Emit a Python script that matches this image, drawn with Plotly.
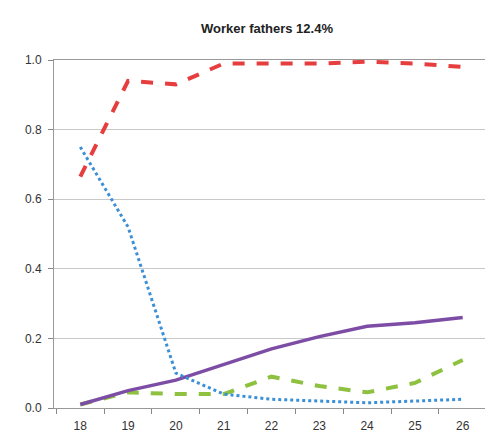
import plotly.graph_objects as go

ages = ["18", "19", "20", "21", "22", "23", "24", "25", "26"]
red_series = [0.665, 0.94, 0.93, 0.99, 0.99, 0.99, 0.995, 0.99, 0.98]
blue_series = [0.75, 0.52, 0.10, 0.04, 0.025, 0.02, 0.015, 0.02, 0.025]
purple_series = [0.01, 0.05, 0.08, 0.125, 0.17, 0.205, 0.235, 0.245, 0.26]
green_series = [0.01, 0.045, 0.04, 0.04, 0.09, 0.063, 0.045, 0.072, 0.138]

fig = go.Figure()
fig.add_trace(go.Scatter(x=ages, y=green_series, mode="lines",
                         line=dict(color="#8dc13f", width=4, dash="dash")))
fig.add_trace(go.Scatter(x=ages, y=purple_series, mode="lines",
                         line=dict(color="#7d4da6", width=3.5)))
fig.add_trace(go.Scatter(x=ages, y=blue_series, mode="lines",
                         line=dict(color="#3a8fd6", width=3, dash="dot")))
fig.add_trace(go.Scatter(x=ages, y=red_series, mode="lines",
                         line=dict(color="#e63e3e", width=4, dash="dash")))

fig.update_layout(
    width=485, height=433,
    margin=dict(l=46, r=4, t=52, b=33),
    paper_bgcolor="white", plot_bgcolor="white",
    showlegend=False,
    title=dict(text="<b>Worker fathers 12.4%</b>", x=0.534, xanchor="center",
               y=1 - 20 / 433, yanchor="middle",
               font=dict(family="Liberation Sans, Arial", size=13, color="#222222")),
    font=dict(family="Liberation Sans, Arial", size=12, color="#333333"),
)
fig.update_xaxes(type="category", range=[-0.55, 8.55], tickson="boundaries",
                 ticks="outside", ticklen=5, ticklabelstandoff=7, automargin=False,
                 tickcolor="#888888", showline=True, linecolor="#999999", linewidth=1,
                 mirror=True, showgrid=False, tickfont=dict(size=12, color="#333333"))
fig.update_yaxes(range=[0, 1], dtick=0.2, tickformat=".1f", ticks="outside", ticklen=5,
                 ticklabelstandoff=4, automargin=False,
                 tickcolor="#888888", showline=True, linecolor="#999999", linewidth=1,
                 mirror=True, showgrid=True, gridcolor="#c8c8c8", gridwidth=1,
                 zeroline=False, tickfont=dict(size=12, color="#333333"))

fig.write_html("out.html")
